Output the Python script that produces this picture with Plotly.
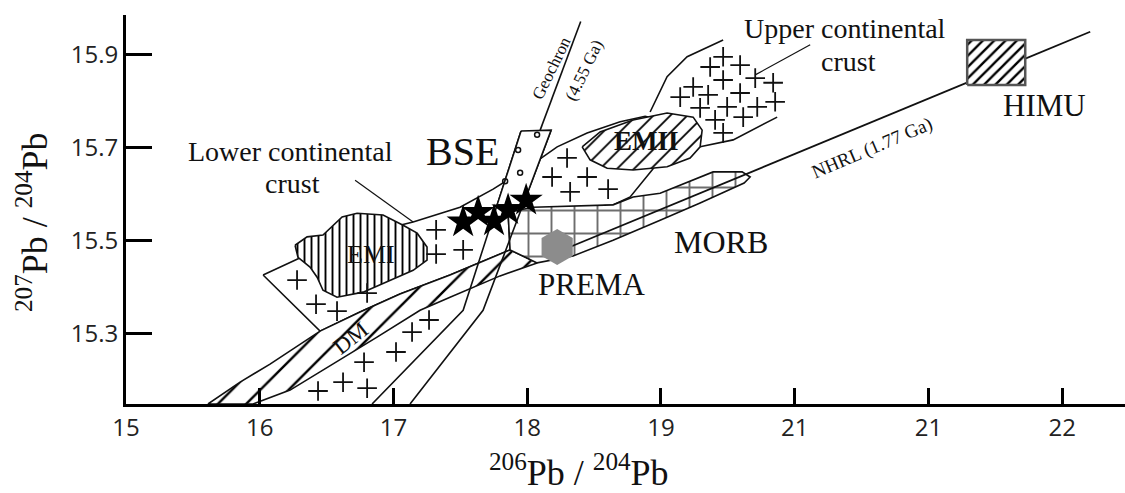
import plotly.graph_objects as go

# ---------------- axis ticks ----------------
x_tickvals = [15, 16, 17, 18, 19, 20, 21, 22]
x_ticktext = ["15", "16", "17", "18", "19", "21", "21", "22"]
y_tickvals = [15.3, 15.5, 15.7, 15.9]
y_ticktext = ["15.3", "15.5", "15.7", "15.9"]
x_range = [15.0, 22.47]
y_range = [15.148, 15.986]

# ---------------- reservoir fields (206Pb/204Pb, 207Pb/204Pb) ----------------
lcc_x = [16.025, 16.279, 16.526, 16.750, 17.147, 17.498, 17.745, 18.022, 18.224, 18.448, 18.695, 18.882,
         18.994, 18.994, 18.934, 18.770, 18.642, 18.246, 17.857, 17.872, 17.423, 17.049, 16.750, 16.451, 16.025]
lcc_y = [15.426, 15.460, 15.490, 15.512, 15.540, 15.572, 15.611, 15.661, 15.702, 15.732, 15.756, 15.768,
         15.760, 15.674, 15.652, 15.594, 15.577, 15.566, 15.561, 15.480, 15.426, 15.385, 15.346, 15.305, 15.426]

emi_x = [16.264, 16.354, 16.473, 16.616, 16.728, 16.922, 17.072, 17.177, 17.251, 17.251, 17.147, 16.975,
         16.773, 16.578, 16.473, 16.429, 16.376, 16.286, 16.264]
emi_y = [15.490, 15.508, 15.512, 15.551, 15.559, 15.555, 15.533, 15.516, 15.486, 15.458, 15.436, 15.415,
         15.389, 15.378, 15.393, 15.421, 15.443, 15.464, 15.490]

dm_x = [15.613, 15.853, 16.077, 16.301, 16.451, 16.750, 17.049, 17.423, 17.872, 18.074, 17.797, 17.423,
        17.199, 16.877, 16.473, 16.227, 15.950, 15.613]
dm_y = [15.148, 15.195, 15.234, 15.277, 15.305, 15.346, 15.385, 15.426, 15.480, 15.452, 15.424, 15.378,
        15.350, 15.292, 15.221, 15.178, 15.148, 15.148]

morb_x = [17.857, 18.044, 18.642, 18.792, 18.994, 19.241, 19.390, 19.607, 19.667, 19.622, 19.293, 18.994,
          18.642, 18.343, 18.074, 17.872, 17.857]
morb_y = [15.561, 15.572, 15.577, 15.594, 15.602, 15.630, 15.648, 15.648, 15.637, 15.624, 15.581, 15.544,
          15.501, 15.467, 15.452, 15.480, 15.561]

emii_x = [18.411, 18.545, 18.792, 19.046, 19.241, 19.308, 19.293, 19.218, 19.046, 18.792, 18.598, 18.470, 18.411]
emii_y = [15.702, 15.734, 15.760, 15.775, 15.766, 15.738, 15.702, 15.678, 15.659, 15.652, 15.656, 15.674, 15.702]

ucc_left_x = [18.919, 19.046, 19.196, 19.465]
ucc_left_y = [15.777, 15.853, 15.896, 15.932]
ucc_right_x = [19.293, 19.540, 19.869]
ucc_right_y = [15.702, 15.717, 15.766]

himu_x = [21.290, 21.724, 21.724, 21.290, 21.290]
himu_y = [15.835, 15.835, 15.932, 15.932, 15.835]

# ---------------- reference lines ----------------
nhrl_x = [18.224, 22.210]
nhrl_y = [15.475, 15.950]
geochron_x = [18.097, 18.400]
geochron_y = [15.738, 15.972]
band_left_x = [17.954, 17.521, 16.840]
band_left_y = [15.736, 15.350, 15.148]
band_right_x = [18.179, 17.670, 17.124]
band_right_y = [15.738, 15.350, 15.148]
bse_x = [17.954, 18.179, 17.969, 17.775, 17.954]
bse_y = [15.736, 15.738, 15.577, 15.577, 15.736]
lcc_leader_x = [16.713, 17.147]
lcc_leader_y = [15.630, 15.540]
ucc_leader_x = [20.116, 19.705]
ucc_leader_y = [15.922, 15.857]

# ---------------- points ----------------
star_x = [17.521, 17.633, 17.752, 17.857, 17.992]
star_y = [15.540, 15.561, 15.542, 15.566, 15.587]
prema_x = [18.224]
prema_y = [15.486]
bse_pts_x = [18.074, 17.932, 17.947, 17.835]
bse_pts_y = [15.728, 15.695, 15.646, 15.628]

lcc_plus_x = [16.279, 16.421, 16.578, 16.803, 17.319, 17.319, 17.521, 18.298, 18.186, 18.448, 18.321, 18.605,
              17.266, 17.139, 17.019, 16.780, 16.623, 16.436, 16.803]
lcc_plus_y = [15.415, 15.363, 15.348, 15.387, 15.523, 15.471, 15.480, 15.678, 15.637, 15.637, 15.605, 15.611,
              15.329, 15.303, 15.260, 15.238, 15.195, 15.176, 15.182]
ucc_plus_x = [19.465, 19.368, 19.592, 19.705, 19.839, 19.241, 19.465, 19.144, 19.353, 19.592, 19.293, 19.495,
              19.720, 19.854, 19.615, 19.405, 19.465]
ucc_plus_y = [15.896, 15.874, 15.878, 15.850, 15.840, 15.831, 15.846, 15.809, 15.814, 15.818, 15.786, 15.788,
              15.788, 15.799, 15.766, 15.760, 15.732]

# ---------------- labels ----------------
label_text = ["Lower continental", "crust", "Upper continental", "crust", "BSE", "EMI", "<b>EMII</b>", "DM",
              "PREMA", "MORB", "HIMU", "NHRL (1.77 Ga)", "Geochron", "(4.55 Ga)"]
label_x = [16.227, 16.242, 20.378, 20.400, 17.513, 16.832, 18.889, 16.675, 18.478, 19.450, 21.866, 20.580,
           18.186, 18.426]
label_y = [15.691, 15.622, 15.956, 15.885, 15.693, 15.469, 15.715, 15.290, 15.406, 15.497, 15.792, 15.699,
           15.872, 15.866]

INK = "#111111"
SERIF = "Liberation Serif, Times New Roman, serif"

fig = go.Figure()


def field(xs, ys, pattern=None, line_color=INK, width=1.6):
    kw = dict(x=xs, y=ys, mode="lines", fill="toself", fillcolor="white",
              line=dict(color=line_color, width=width), hoverinfo="skip", showlegend=False)
    if pattern:
        pattern = dict(pattern, fgopacity=1, fillmode="replace")
        kw["fillpattern"] = pattern
    fig.add_trace(go.Scatter(**kw))


def line(xs, ys, width=1.6, color=INK):
    fig.add_trace(go.Scatter(x=xs, y=ys, mode="lines", line=dict(color=color, width=width),
                             hoverinfo="skip", showlegend=False))


field(lcc_x, lcc_y)
field(dm_x, dm_y, dict(shape="/", size=20, solidity=0.12, fgcolor="black", bgcolor="white"))
field(morb_x, morb_y, dict(shape="+", size=23, solidity=0.16, fgcolor="#6e6e6e", bgcolor="white"))
field(emi_x, emi_y, dict(shape="|", size=7, solidity=0.27, fgcolor="black", bgcolor="white"))
field(emii_x, emii_y, dict(shape="/", size=12, solidity=0.15, fgcolor="black", bgcolor="white"))
line(ucc_left_x, ucc_left_y)
line(ucc_right_x, ucc_right_y)
line(nhrl_x, nhrl_y, width=1.8)
field(himu_x, himu_y, dict(shape="/", size=8, solidity=0.3, fgcolor="black", bgcolor="white"),
      line_color="#555555", width=2.5)
line(geochron_x, geochron_y)
line(band_left_x, band_left_y)
line(band_right_x, band_right_y)
field(bse_x, bse_y)
line(lcc_leader_x, lcc_leader_y, width=1.2)
line(ucc_leader_x, ucc_leader_y, width=1.2)

plus_marker = dict(symbol="cross-thin", size=14, color=INK, line=dict(width=1.8, color=INK))
fig.add_trace(go.Scatter(x=lcc_plus_x, y=lcc_plus_y, mode="markers", marker=plus_marker,
                         hoverinfo="skip", showlegend=False))
fig.add_trace(go.Scatter(x=ucc_plus_x, y=ucc_plus_y, mode="markers", marker=plus_marker,
                         hoverinfo="skip", showlegend=False))
fig.add_trace(go.Scatter(x=bse_pts_x, y=bse_pts_y, mode="markers",
                         marker=dict(symbol="circle-open", size=5, color=INK, line=dict(width=1.5, color=INK)),
                         hoverinfo="skip", showlegend=False))
fig.add_trace(go.Scatter(x=star_x, y=star_y, mode="markers",
                         marker=dict(symbol="star", size=25, color="black", line=dict(width=0)),
                         hoverinfo="skip", showlegend=False))
fig.add_trace(go.Scatter(x=prema_x, y=prema_y, mode="markers",
                         marker=dict(symbol="hexagon", size=36, color="#8c8c8c", line=dict(width=0)),
                         hoverinfo="skip", showlegend=False))

label_style = {
    "Lower continental": (28, 0), "crust": (28, 0), "Upper continental": (28, 0),
    "BSE": (40, 0), "EMI": (26, 0), "<b>EMII</b>": (27, 0), "DM": (23, -38),
    "PREMA": (31, 0), "MORB": (32, 0), "HIMU": (31, 0), "NHRL (1.77 Ga)": (19, -23),
    "Geochron": (17, -64), "(4.55 Ga)": (17, -64),
}
for t, lx, ly in zip(label_text, label_x, label_y):
    size, ang = label_style[t]
    fig.add_annotation(x=lx, y=ly, xref="x", yref="y", text=t, showarrow=False,
                       xanchor="center", yanchor="middle", textangle=ang,
                       font=dict(family=SERIF, size=size, color=INK))

# axis titles
fig.add_annotation(x=0.4535, y=-0.17, xref="paper", yref="paper", showarrow=False,
                   text="<sup>206</sup>Pb / <sup>204</sup>Pb", xanchor="center", yanchor="middle",
                   font=dict(family=SERIF, size=36, color=INK))
fig.add_annotation(x=-0.093, y=0.468, xref="paper", yref="paper", showarrow=False, textangle=-90,
                   text="<sup>207</sup>Pb / <sup>204</sup>Pb", xanchor="center", yanchor="middle",
                   font=dict(family=SERIF, size=36, color=INK))

tickfont = dict(family="Open Sans, Liberation Sans, sans-serif", size=24, color="#222222")
fig.update_xaxes(range=x_range, tickmode="array", tickvals=x_tickvals, ticktext=x_ticktext,
                 showgrid=False, zeroline=False, showline=True, linewidth=3, linecolor="black",
                 ticks="inside", ticklen=16, tickwidth=3, tickcolor="black", tickfont=tickfont)
fig.update_yaxes(range=y_range, tickmode="array", tickvals=y_tickvals, ticktext=y_ticktext,
                 showgrid=False, zeroline=False, showline=True, linewidth=3, linecolor="black",
                 ticks="inside", ticklen=26, tickwidth=3, tickcolor="black", tickfont=tickfont)
fig.update_layout(width=1125, height=493, margin=dict(l=126, r=0, t=15, b=89),
                  plot_bgcolor="white", paper_bgcolor="white", showlegend=False)

fig.write_html("out.html")
